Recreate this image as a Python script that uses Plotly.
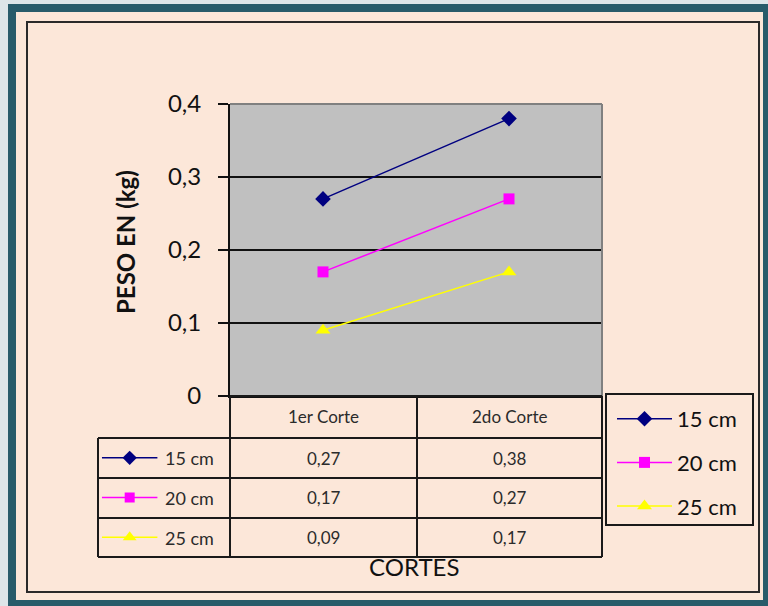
import plotly.graph_objects as go

# ---- data ----
categories = ["1er Corte", "2do Corte"]
series_names = ["15 cm", "20 cm", "25 cm"]
values_15 = [0.27, 0.38]
values_20 = [0.17, 0.27]
values_25 = [0.09, 0.17]
y_tick_vals = [0, 0.1, 0.2, 0.3, 0.4]
y_tick_text = ["0", "0,1", "0,2", "0,3", "0,4"]

series_values = [values_15, values_20, values_25]
colors = ["#000080", "#ff00ff", "#ffff00"]
symbols = ["diamond", "square", "triangle-up"]
msizes = [12, 11, 13]

W, H = 768, 606
def fx(p):
    return p / W
def fy(p):
    return 1 - p / H

PEACH = "#fce7d9"
TEAL = "#285b6a"
FONT = "Lato, 'Open Sans', sans-serif"

fig = go.Figure()

for name, vals, c, s, ms in zip(series_names, series_values, colors, symbols, msizes):
    fig.add_trace(go.Scatter(
        x=categories, y=vals, name=name, mode="lines+markers",
        line=dict(color=c, width=1.5),
        marker=dict(color=c, symbol=s, size=ms),
        legendgroup=name, xaxis="x", yaxis="y",
    ))

# table key traces (helper axis; columns 0..1, rows 0..3)
for i, (name, c, s, ms) in enumerate(zip(series_names, colors, symbols, msizes)):
    row = 2.5 - i
    fig.add_trace(go.Scatter(
        x=[0.03, 0.45], y=[row, row], mode="lines",
        line=dict(color=c, width=1.5), showlegend=False, hoverinfo="skip",
        xaxis="x2", yaxis="y2",
    ))
    fig.add_trace(go.Scatter(
        x=[0.24], y=[row], mode="markers",
        marker=dict(color=c, symbol=s, size=ms - 1), showlegend=False,
        hoverinfo="skip", xaxis="x2", yaxis="y2",
    ))

shapes = []
# outer frame
shapes.append(dict(type="rect", xref="paper", yref="paper", x0=0, x1=1, y0=fy(4), y1=1,
                   fillcolor="#dde5e8", line=dict(width=0), layer="below"))
shapes.append(dict(type="rect", xref="paper", yref="paper", x0=0, x1=fx(8), y0=0, y1=1,
                   fillcolor="#dde5e8", line=dict(width=0), layer="below"))
shapes.append(dict(type="rect", xref="paper", yref="paper", x0=fx(16), x1=fx(763),
                   y0=fy(600), y1=fy(12), fillcolor=PEACH, line=dict(width=0), layer="below"))
shapes.append(dict(type="rect", xref="paper", yref="paper", x0=fx(27), x1=fx(759),
                   y0=fy(592), y1=fy(22), line=dict(color="#2a2a2a", width=2), layer="below"))
# plot area background
shapes.append(dict(type="rect", xref="x domain", yref="y domain", x0=0, x1=1, y0=0, y1=1,
                   fillcolor="#c0c0c0", line=dict(width=0), layer="below"))

# plot area top / right border (gray)
shapes.append(dict(type="line", xref="x domain", yref="y domain", x0=0, x1=1, y0=1, y1=1,
                   line=dict(color="#808080", width=2), layer="above"))
shapes.append(dict(type="line", xref="x domain", yref="y domain", x0=1, x1=1, y0=0, y1=1,
                   line=dict(color="#808080", width=2), layer="above"))

# table grid
L, A, B, R = 98, 230, 417, 602
rows_y = [396, 438, 478, 518, 557]
def hline(x0, x1, y):
    shapes.append(dict(type="line", xref="paper", yref="paper", x0=fx(x0), x1=fx(x1),
                       y0=fy(y), y1=fy(y), line=dict(color="#1a1a1a", width=2)))
def vline(x, y0, y1):
    shapes.append(dict(type="line", xref="paper", yref="paper", x0=fx(x), x1=fx(x),
                       y0=fy(y0), y1=fy(y1), line=dict(color="#1a1a1a", width=2)))
hline(A, R, rows_y[0])
for yy in rows_y[1:]:
    hline(L, R, yy)
vline(L, rows_y[1], rows_y[-1])
vline(A, rows_y[0], rows_y[-1])
vline(B, rows_y[0], rows_y[-1])
vline(R, rows_y[0], rows_y[-1])

# legend box
shapes.append(dict(type="rect", xref="paper", yref="paper", x0=fx(606), x1=fx(753),
                   y0=fy(525), y1=fy(394), line=dict(color="#1a1a1a", width=2)))

annotations = []
TXT = "#2b2b2b"
col_centers = [(A + B) / 2, (B + R) / 2]
def ann(text, x, y, size, color=TXT, xanchor="center", **kw):
    annotations.append(dict(text=text, x=fx(x), y=fy(y), xref="paper", yref="paper",
                            xanchor=xanchor, yanchor="middle", showarrow=False,
                            font=dict(size=size, color=color, family=FONT), **kw))

for cat, cx in zip(categories, col_centers):
    ann(cat, cx, (rows_y[0] + rows_y[1]) / 2, 17)
for i, (name, vals) in enumerate(zip(series_names, series_values)):
    cy = (rows_y[i + 1] + rows_y[i + 2]) / 2
    ann(name, 163, cy, 18, xanchor="left")
    for v, cx in zip(vals, col_centers):
        ann(f"{v:.2f}".replace(".", ","), cx, cy, 17)
ann("CORTES", 414, 566, 24, color="#111111")
ann("<b>PESO EN (kg)</b>", 125, 242, 24, color="#111111", textangle=-90)

fig.update_layout(
    width=W, height=H,
    margin=dict(l=0, r=0, t=0, b=0, autoexpand=False),
    paper_bgcolor=TEAL,
    plot_bgcolor="rgba(0,0,0,0)",
    font=dict(family=FONT, color="#111111"),
    showlegend=True,
    legend=dict(x=fx(612), y=fy(398), xanchor="left", yanchor="top",
                bgcolor="rgba(0,0,0,0)", borderwidth=0,
                font=dict(size=22, color="#111111", family=FONT),
                tracegroupgap=12, itemwidth=55),
    xaxis=dict(domain=[fx(230), fx(602)], type="category", showticklabels=False,
               showgrid=False, zeroline=False, showline=True, linecolor="#111111",
               linewidth=2, ticks="", range=[-0.5, 1.5], automargin=False),
    yaxis=dict(domain=[fy(396), fy(104)], range=[0, 0.4], tickvals=y_tick_vals,
               ticktext=y_tick_text, ticks="outside", ticklen=10, tickwidth=1.5,
               tickcolor="#111111", showline=True, linecolor="#111111", linewidth=2,
               showgrid=True, gridcolor="#111111", gridwidth=1.5, zeroline=False,
               ticklabelstandoff=12, automargin=False,
               tickfont=dict(size=24, color="#111111", family=FONT)),
    xaxis2=dict(domain=[fx(98), fx(230)], range=[0, 1], visible=False, anchor="y2"),
    yaxis2=dict(domain=[fy(557), fy(438)], range=[0, 3], visible=False, anchor="x2"),
    shapes=shapes,
    annotations=annotations,
)

fig.write_html("out.html", config={"displayModeBar": False},
               post_script="document.body.style.margin='0';")
